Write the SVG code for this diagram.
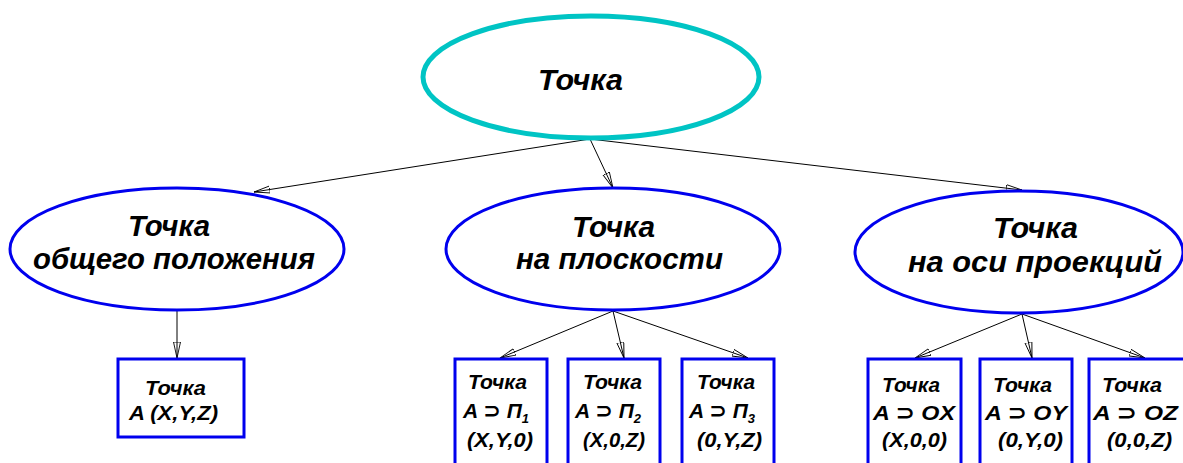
<svg xmlns="http://www.w3.org/2000/svg" width="1183" height="463" viewBox="0 0 1183 463">
  <defs>
    <style>
      .lbl { font-family: "Liberation Sans", Arial, "DejaVu Sans", sans-serif; font-weight: bold; font-style: italic; fill: #000; }
      .big { font-size: 30px; }
      .small { font-size: 21px; }
      .sub { font-size: 13px; }
      .top { fill: #fff; stroke: #00C4C4; stroke-width: 5; }
      .oval { fill: #fff; stroke: #0000EE; stroke-width: 3; }
      .box { fill: #fff; stroke: #0000EE; stroke-width: 3; }
      .edge { stroke: #000; stroke-width: 1; fill: none; marker-end: url(#arrow); }
    </style>
    <marker id="arrow" markerUnits="userSpaceOnUse" markerWidth="18" markerHeight="9" refX="16" refY="4" orient="auto">
      <path d="M0,0.5 L16,4 L0,7.5 Z" fill="none" stroke="#000" stroke-width="0.9"/>
    </marker>
  </defs>

  <!-- connectors -->
  <g id="connectors">
    <line class="edge" x1="590" y1="139" x2="254" y2="192"/>
    <line class="edge" x1="590" y1="139" x2="613" y2="188"/>
    <line class="edge" x1="590" y1="139" x2="1022" y2="190"/>
    <line class="edge" x1="177" y1="310" x2="177" y2="358"/>
    <line class="edge" x1="613" y1="311" x2="500" y2="358"/>
    <line class="edge" x1="613" y1="311" x2="624" y2="358"/>
    <line class="edge" x1="613" y1="311" x2="748" y2="358"/>
    <line class="edge" x1="1022" y1="314" x2="915" y2="358"/>
    <line class="edge" x1="1022" y1="314" x2="1032" y2="358"/>
    <line class="edge" x1="1022" y1="314" x2="1145" y2="358"/>
  </g>

  <!-- root -->
  <g id="node-root">
    <ellipse class="top" cx="591" cy="77" rx="168" ry="61"/>
    <text class="lbl big" x="538" y="90" textLength="85" lengthAdjust="spacingAndGlyphs">Точка</text>
  </g>

  <!-- second level -->
  <g id="node-general">
    <ellipse class="oval" cx="177" cy="249" rx="167" ry="61"/>
    <text class="lbl big" x="128" y="236" textLength="82" lengthAdjust="spacingAndGlyphs">Точка</text>
    <text class="lbl big" x="33" y="269" textLength="282" lengthAdjust="spacingAndGlyphs">общего положения</text>
  </g>
  <g id="node-plane">
    <ellipse class="oval" cx="613" cy="249" rx="167" ry="61"/>
    <text class="lbl big" x="572" y="237" textLength="83" lengthAdjust="spacingAndGlyphs">Точка</text>
    <text class="lbl big" x="516" y="269" textLength="207" lengthAdjust="spacingAndGlyphs">на плоскости</text>
  </g>
  <g id="node-axis">
    <ellipse class="oval" cx="1019" cy="252" rx="164" ry="61"/>
    <text class="lbl big" x="993" y="238" textLength="85" lengthAdjust="spacingAndGlyphs">Точка</text>
    <text class="lbl big" x="908" y="272" textLength="254" lengthAdjust="spacingAndGlyphs">на оси проекций</text>
  </g>

  <!-- leaves -->
  <g id="leaf-general">
    <rect class="box" x="118" y="359" width="126" height="78"/>
    <text class="lbl small" x="145" y="395" textLength="61" lengthAdjust="spacingAndGlyphs">Точка</text>
    <text class="lbl small" x="129" y="420" textLength="89" lengthAdjust="spacingAndGlyphs">A (X,Y,Z)</text>
  </g>

  <g id="leaf-p1">
    <rect class="box" x="455" y="359" width="92" height="115"/>
    <text class="lbl small" x="468" y="389" textLength="59" lengthAdjust="spacingAndGlyphs">Точка</text>
    <text class="lbl small" x="463" y="418">A ⊃ П<tspan class="sub" dy="5">1</tspan></text>
    <text class="lbl small" x="467" y="447" textLength="66" lengthAdjust="spacingAndGlyphs">(X,Y,0)</text>
  </g>
  <g id="leaf-p2">
    <rect class="box" x="568" y="359" width="92" height="115"/>
    <text class="lbl small" x="583" y="389" textLength="59" lengthAdjust="spacingAndGlyphs">Точка</text>
    <text class="lbl small" x="575" y="418">A ⊃ П<tspan class="sub" dy="5">2</tspan></text>
    <text class="lbl small" x="583" y="447" textLength="62" lengthAdjust="spacingAndGlyphs">(X,0,Z)</text>
  </g>
  <g id="leaf-p3">
    <rect class="box" x="682" y="359" width="92" height="115"/>
    <text class="lbl small" x="697" y="389" textLength="58" lengthAdjust="spacingAndGlyphs">Точка</text>
    <text class="lbl small" x="689" y="418">A ⊃ П<tspan class="sub" dy="5">3</tspan></text>
    <text class="lbl small" x="697" y="447" textLength="65" lengthAdjust="spacingAndGlyphs">(0,Y,Z)</text>
  </g>

  <g id="leaf-ox">
    <rect class="box" x="868" y="359" width="93" height="115"/>
    <text class="lbl small" x="882" y="392" textLength="58" lengthAdjust="spacingAndGlyphs">Точка</text>
    <text class="lbl small" x="873" y="420" textLength="82" lengthAdjust="spacingAndGlyphs">A ⊃ OX</text>
    <text class="lbl small" x="882" y="447" textLength="65" lengthAdjust="spacingAndGlyphs">(X,0,0)</text>
  </g>
  <g id="leaf-oy">
    <rect class="box" x="980" y="359" width="92" height="115"/>
    <text class="lbl small" x="993" y="392" textLength="59" lengthAdjust="spacingAndGlyphs">Точка</text>
    <text class="lbl small" x="985" y="420" textLength="82" lengthAdjust="spacingAndGlyphs">A ⊃ OY</text>
    <text class="lbl small" x="998" y="447" textLength="65" lengthAdjust="spacingAndGlyphs">(0,Y,0)</text>
  </g>
  <g id="leaf-oz">
    <rect class="box" x="1089" y="359" width="96" height="115"/>
    <text class="lbl small" x="1102" y="392" textLength="60" lengthAdjust="spacingAndGlyphs">Точка</text>
    <text class="lbl small" x="1093" y="420" textLength="85" lengthAdjust="spacingAndGlyphs">A ⊃ OZ</text>
    <text class="lbl small" x="1107" y="447" textLength="65" lengthAdjust="spacingAndGlyphs">(0,0,Z)</text>
  </g>
</svg>
